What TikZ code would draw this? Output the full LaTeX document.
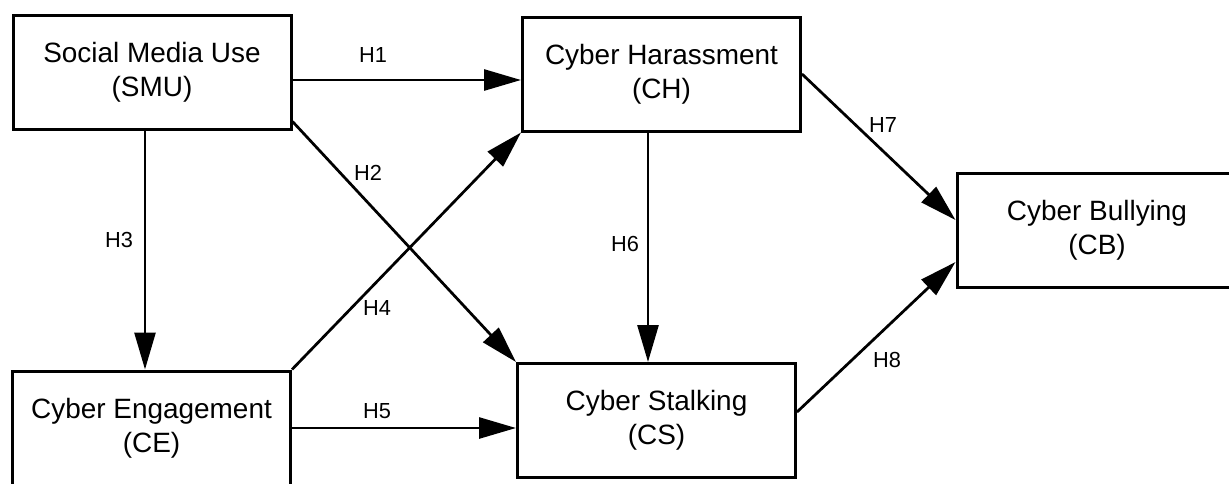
\documentclass[tikz,border=0pt]{standalone}
\usepackage{fontspec}
\setmainfont{Liberation Sans}
\usepackage{tikz}
\usetikzlibrary{positioning,arrows.meta,calc}

\begin{document}
\begin{tikzpicture}[
  box/.style = {draw, line width=0.6mm, minimum width=55.6mm, minimum height=22.8mm,
                inner sep=0pt, align=center, font=\fontsize{15.9}{19.4}\selectfont},
  hyp/.style = {font=\fontsize{12.4}{14}\selectfont, inner sep=0pt},
  arr/.style = {-{Triangle[length=7.4mm, width=4.2mm]}, line width=0.55mm},
]
\useasboundingbox (0,0) rectangle (245.8mm,-96.6mm);

% ======================= constructs ====================================
\node[box] (SMU) at (30.4mm,-14.4mm)  {Social Media Use\\(SMU)};
\node[box] (CH)  at (132.3mm,-14.8mm) {Cyber Harassment\\(CH)};
\node[box] (CE)  at (30.3mm,-85.6mm)  {Cyber Engagement\\(CE)};
\node[box] (CS)  at (131.3mm,-84.1mm) {Cyber Stalking\\(CS)};
\node[box, minimum width=56mm] (CB) at (219.4mm,-46.1mm) {Cyber Bullying\\(CB)};

% ======================= paths =========================================
\draw[arr] ([yshift=-1.6mm]SMU.east) -- ([yshift=-1.6mm]SMU.east -| CH.west);
\draw[arr] ([yshift=1.8mm]SMU.south east) -- (CS.north west);
\draw[arr] ([xshift=-1.4mm]SMU.south) -- ([xshift=-1.4mm]SMU.south |- CE.north);
\draw[arr] (CE.north east) -- (CH.south west);
\draw[arr] (CE.east) -- (CE.east -| CS.west);
\draw[arr] ([xshift=-2.7mm]CH.south) -- ([xshift=-2.7mm]CH.south |- CS.north);
\draw[arr] (CH.east) -- ([yshift=2.1mm]CB.west);
\draw[arr] ([yshift=1.7mm]CS.east) -- ([yshift=-6.3mm]CB.west);

% ======================= hypotheses ====================================
\node[hyp] (h1) at (74.6mm,-11.0mm)  {H1};
\node[hyp] (h2) at (73.6mm,-34.6mm)  {H2};
\node[hyp] (h3) at (23.8mm,-48.0mm)  {H3};
\node[hyp] (h4) at (75.4mm,-61.6mm)  {H4};
\node[hyp] (h5) at (75.4mm,-82.2mm)  {H5};
\node[hyp] (h6) at (125.0mm,-48.8mm) {H6};
\node[hyp] (h7) at (176.6mm,-25.0mm) {H7};
\node[hyp] (h8) at (177.4mm,-72.0mm) {H8};

\end{tikzpicture}
\end{document}
